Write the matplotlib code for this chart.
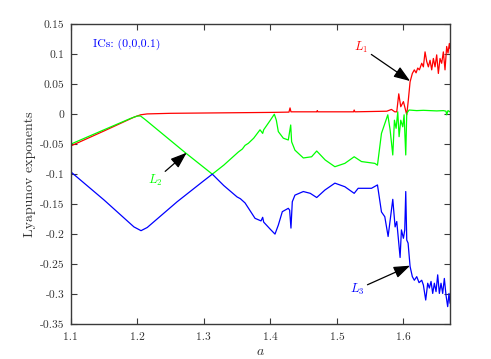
import matplotlib
matplotlib.use("Agg")
import matplotlib.pyplot as plt
from matplotlib.ticker import FixedLocator, FixedFormatter

plt.rcParams['font.family'] = ['cmr10', 'DejaVu Serif']
plt.rcParams['mathtext.fontset'] = 'cm'
plt.rcParams['axes.unicode_minus'] = False

# ---- data ----
a_L1 = [1.100, 1.150, 1.195, 1.205, 1.215, 1.250, 1.300, 1.350, 1.400, 1.428, 1.4296, 1.431,
        1.470, 1.4705, 1.4715, 1.525, 1.526, 1.527, 1.575, 1.582, 1.587, 1.590, 1.593, 1.596,
        1.600, 1.605, 1.6074, 1.610, 1.6134, 1.6164, 1.619, 1.6215, 1.624, 1.6275, 1.630,
        1.6325, 1.635, 1.6375, 1.640, 1.6425, 1.645, 1.6475, 1.650, 1.6525, 1.655, 1.6575,
        1.660, 1.6625, 1.665, 1.667, 1.669, 1.670]
L1 = [-0.053, -0.028, -0.005, -0.001, 0.0005, 0.0015, 0.002, 0.0025, 0.003, 0.0035, 0.0105, 0.004,
      0.004, 0.006, 0.004, 0.004, 0.007, 0.004, 0.005, 0.008, 0.004, 0.004, 0.034, 0.0125,
      0.021, -0.001, 0.024, 0.054, 0.068, 0.074, 0.069, 0.077, 0.074, 0.085, 0.079,
      0.104, 0.088, 0.079, 0.090, 0.074, 0.093, 0.079, 0.099, 0.068, 0.093, 0.085,
      0.104, 0.074, 0.113, 0.102, 0.118, 0.110]

a_L2 = [1.100, 1.150, 1.190, 1.200, 1.205, 1.212, 1.272, 1.3128, 1.330, 1.352, 1.358, 1.362,
        1.367, 1.375, 1.3845, 1.3885, 1.390, 1.400, 1.406, 1.409, 1.412, 1.4195, 1.427, 1.4306,
        1.432, 1.437, 1.4496, 1.462, 1.4697, 1.4825, 1.497, 1.512, 1.526, 1.537, 1.557, 1.561,
        1.567, 1.573, 1.5765, 1.580, 1.584, 1.5865, 1.589, 1.5915, 1.5935, 1.596, 1.599, 1.601,
        1.6035, 1.605, 1.6085, 1.620, 1.630, 1.640, 1.650, 1.660, 1.664, 1.665, 1.667, 1.670]
L2 = [-0.050, -0.026, -0.007, -0.003, -0.003, -0.009, -0.064, -0.100, -0.085, -0.063, -0.058, -0.052,
      -0.0485, -0.040, -0.026, -0.032, -0.026, -0.010, 0.000, -0.010, -0.029, -0.040, -0.043, -0.018,
      -0.046, -0.060, -0.073, -0.071, -0.0614, -0.0764, -0.0876, -0.082, -0.071, -0.079, -0.082, -0.085,
      -0.032, -0.0125, -0.001, -0.026, -0.068, -0.010, -0.0235, 0.004, -0.0375, -0.010, -0.021, -0.001,
      -0.068, 0.0015, 0.007, 0.006, 0.0065, 0.006, 0.0055, 0.006, 0.005, -0.001, 0.006, 0.004]

a_L3 = [1.100, 1.150, 1.195, 1.2057, 1.215, 1.260, 1.300, 1.3128, 1.330, 1.350, 1.355, 1.362,
        1.377, 1.386, 1.3885, 1.390, 1.400, 1.407, 1.412, 1.418, 1.427, 1.429, 1.431, 1.433,
        1.437, 1.4496, 1.460, 1.4697, 1.482, 1.497, 1.512, 1.526, 1.532, 1.552, 1.561,
        1.567, 1.572, 1.577, 1.584, 1.5875, 1.590, 1.595, 1.597, 1.600, 1.602, 1.6035, 1.605,
        1.607, 1.610, 1.6134, 1.6164, 1.620, 1.6235, 1.6275, 1.630, 1.6335, 1.6365, 1.639,
        1.6415, 1.644, 1.6465, 1.649, 1.6515, 1.654, 1.6565, 1.659, 1.6615, 1.664, 1.6665,
        1.6685, 1.670]
L3 = [-0.096, -0.143, -0.188, -0.1943, -0.189, -0.146, -0.111, -0.100, -0.119, -0.138, -0.141, -0.148,
      -0.1737, -0.178, -0.172, -0.180, -0.192, -0.200, -0.185, -0.1626, -0.157, -0.160, -0.190, -0.146,
      -0.135, -0.129, -0.132, -0.139, -0.1265, -0.115, -0.121, -0.132, -0.1236, -0.1236, -0.118,
      -0.163, -0.171, -0.204, -0.142, -0.188, -0.179, -0.239, -0.193, -0.207, -0.193, -0.129, -0.210,
      -0.215, -0.254, -0.271, -0.277, -0.271, -0.281, -0.277, -0.285, -0.310, -0.282, -0.290,
      -0.279, -0.299, -0.282, -0.296, -0.268, -0.299, -0.282, -0.299, -0.274, -0.302, -0.321,
      -0.299, -0.315]

xticks = [1.1, 1.2, 1.3, 1.4, 1.5, 1.6]
xticklabels = ['1.1', '1.2', '1.3', '1.4', '1.5', '1.6']
yticks = [-0.35, -0.3, -0.25, -0.2, -0.15, -0.1, -0.05, 0, 0.05, 0.1, 0.15]
yticklabels = ['-0.35', '-0.3', '-0.25', '-0.2', '-0.15', '-0.1', '-0.05', '0', '0.05', '0.1', '0.15']

RED = (1.0, 0.0, 0.0)
GREEN = (0.0, 1.0, 0.0)
BLUE = (0.0, 0.0, 1.0)

fig = plt.figure(figsize=(4.91, 3.59), dpi=100)
ax = fig.add_axes([0.144, 0.0975, 0.7725, 0.8348])

ax.plot(a_L1, L1, color=RED, lw=0.9)
ax.plot(a_L2, L2, color=GREEN, lw=0.9)
ax.plot(a_L3, L3, color=BLUE, lw=0.9)

ax.set_xlim(1.1, 1.67)
ax.set_ylim(-0.35, 0.15)
ax.xaxis.set_major_locator(FixedLocator(xticks))
ax.xaxis.set_major_formatter(FixedFormatter(xticklabels))
ax.yaxis.set_major_locator(FixedLocator(yticks))
ax.yaxis.set_major_formatter(FixedFormatter(yticklabels))

spine_col = '#3a3a3a'
for s in ax.spines.values():
    s.set_color(spine_col)
    s.set_linewidth(1.0)
ax.tick_params(direction='in', length=4, width=0.8, colors=spine_col,
               labelsize=8.3, top=True, right=True, labelcolor='#333333')
ax.tick_params(axis='x', pad=6)
ax.tick_params(axis='y', pad=4.5)

ax.set_xlabel(r'$a$', fontsize=10, color='#333333', labelpad=3)
ax.set_ylabel('Lyapunov exponents', fontsize=10, color='#333333', labelpad=3)

ax.text(1.133, 0.116, 'ICs: (0,0,0.1)', color=BLUE, fontsize=8.5, va='center', ha='left')

arrowprops = dict(arrowstyle='-|>,head_length=1.1,head_width=0.4', color='black', lw=0.9,
                  shrinkA=0, shrinkB=0)
ax.annotate(r'$L_1$', xy=(1.610, 0.0554), xytext=(1.537, 0.111), color=RED, fontsize=9,
            ha='center', va='center', arrowprops=arrowprops)
ax.annotate(r'$L_2$', xy=(1.2743, -0.0642), xytext=(1.227, -0.1098), color=GREEN, fontsize=9,
            ha='center', va='center', arrowprops=arrowprops)
ax.annotate(r'$L_3$', xy=(1.610, -0.2527), xytext=(1.531, -0.292), color=BLUE, fontsize=9,
            ha='center', va='center', arrowprops=arrowprops)

fig.savefig('out.png', dpi=100)
